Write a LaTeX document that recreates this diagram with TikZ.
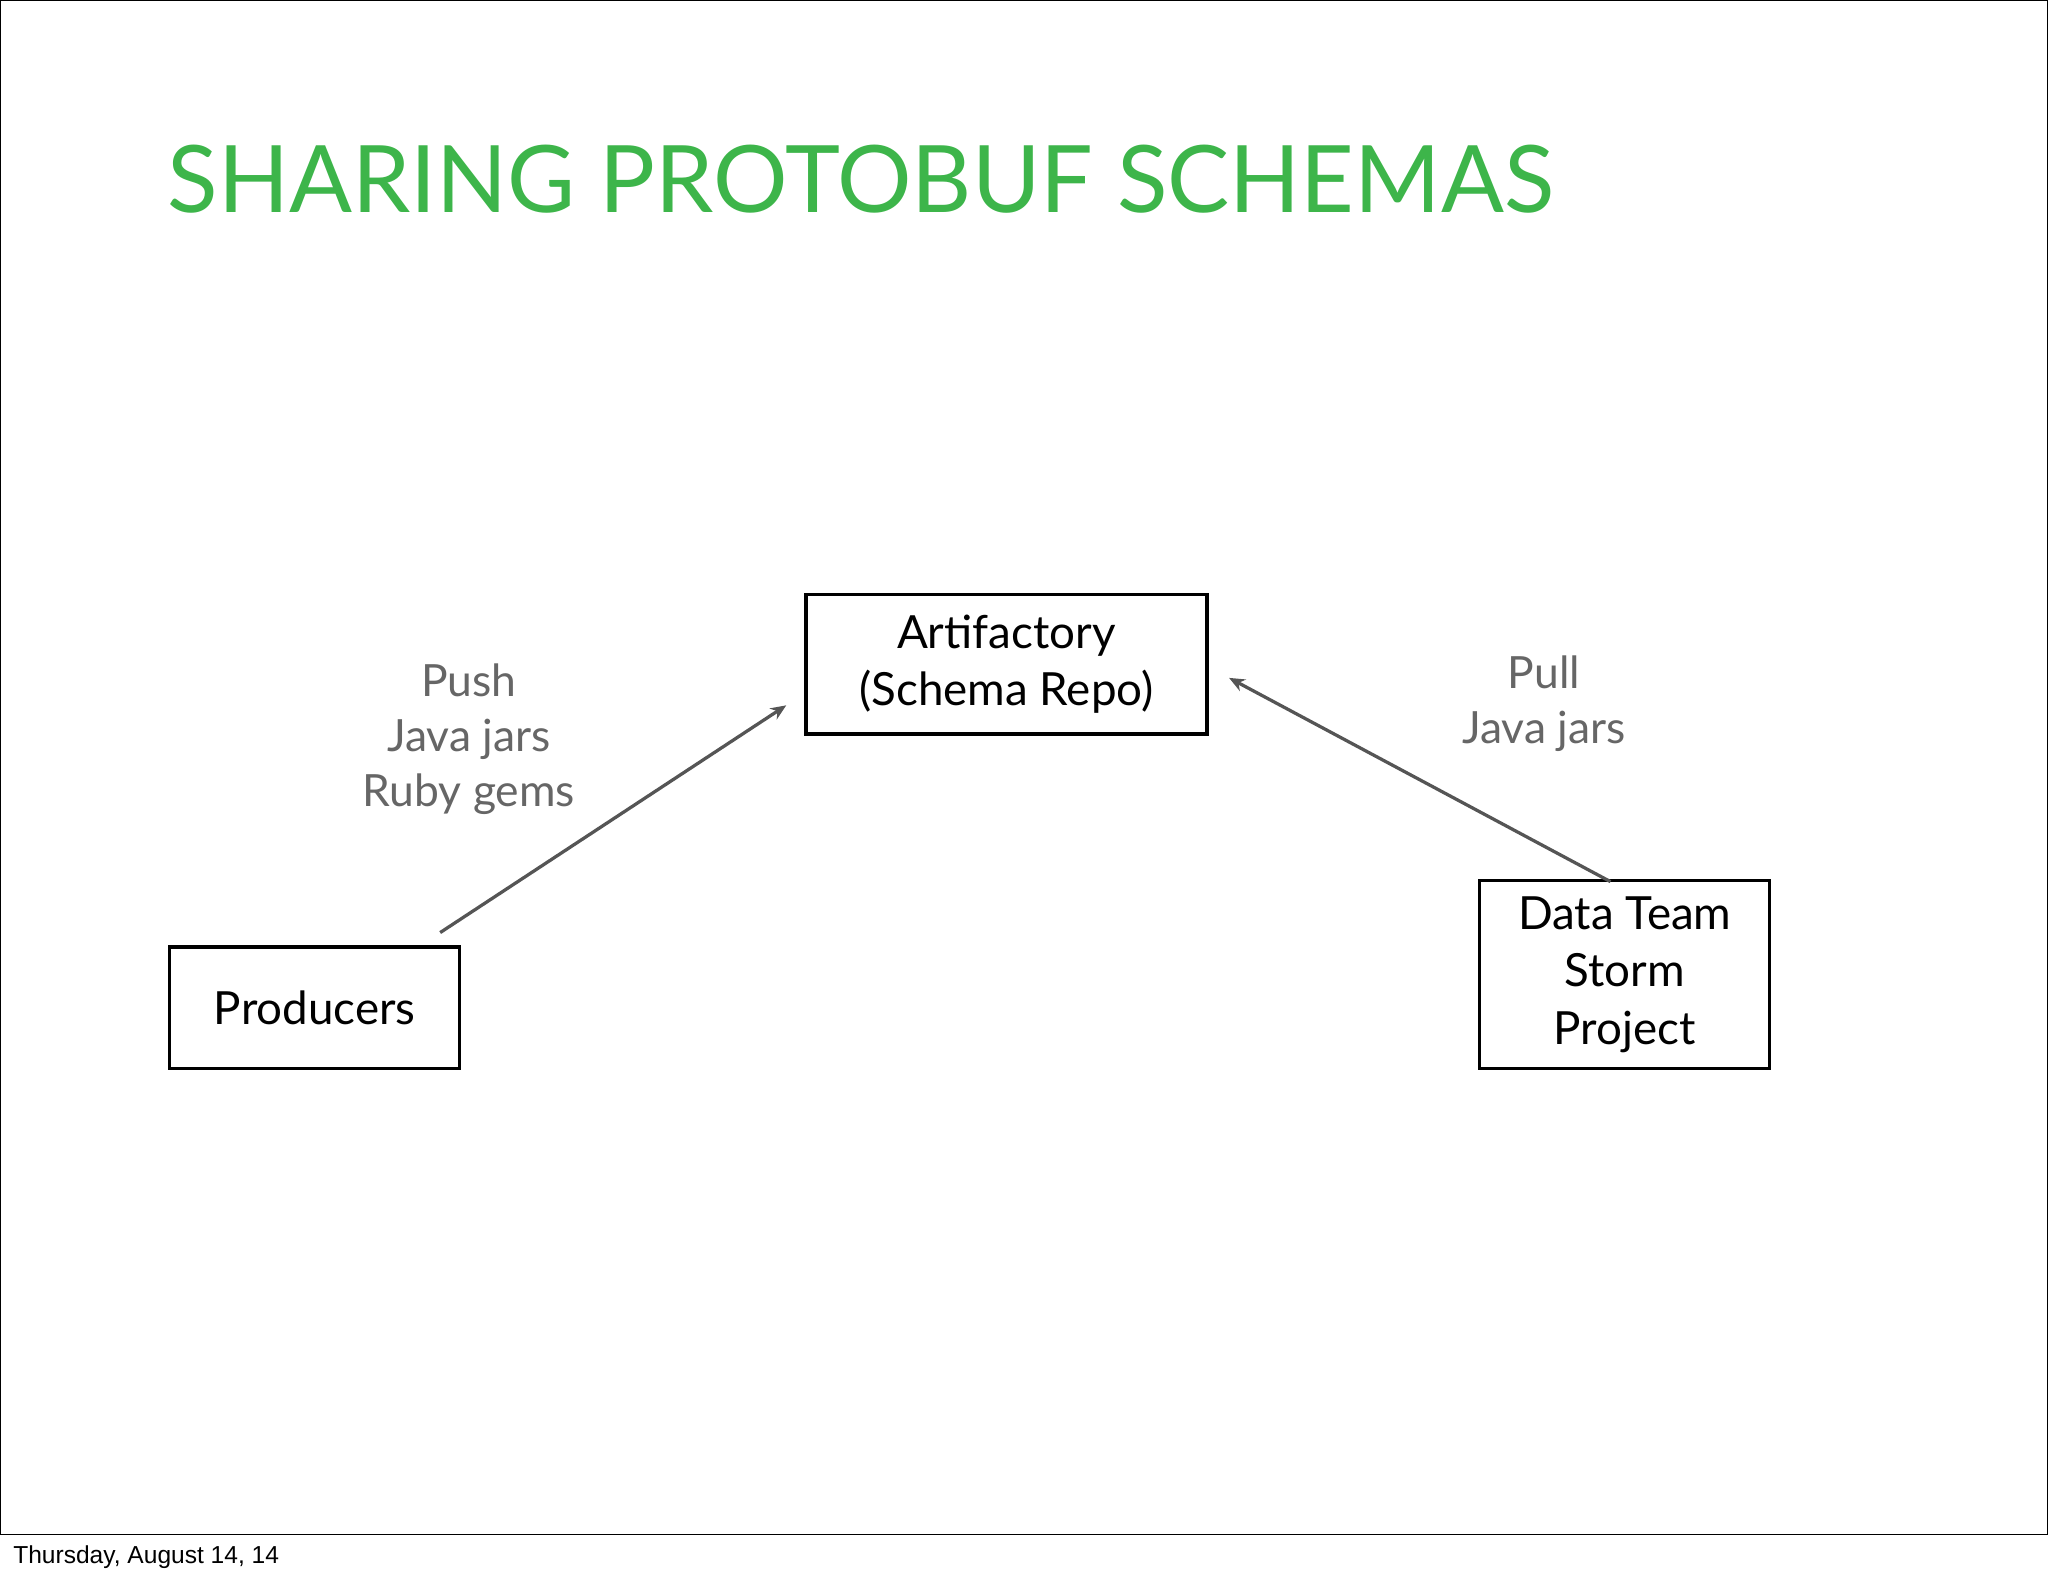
\documentclass[tikz,border=0pt]{standalone}
\usepackage{fontspec}
\setmainfont{Lato}
\newfontfamily\footfont{Liberation Sans}
\usetikzlibrary{arrows.meta}
\definecolor{titlegreen}{HTML}{3DB54A}
\definecolor{arrowgray}{HTML}{555555}
\definecolor{labelgray}{HTML}{666666}
\begin{document}
\begin{tikzpicture}[x=1pt,y=-1pt,
  boxstyle/.style={draw=black,line width=2.5pt,font=\fontsize{35}{44}\selectfont,align=center,inner sep=0pt},
  lbl/.style={text=labelgray,font=\fontsize{34}{42}\selectfont,align=center},
  conn/.style={draw=arrowgray,line width=2.5pt,-{Stealth[length=12pt,width=10pt]}}]
\useasboundingbox (0,0) rectangle (1568,1207);
\draw[line width=0.8pt] (0.5,0.5) rectangle (1567.5,1175);
\node[anchor=base west,text=titlegreen,font=\fontsize{71.3}{80}\selectfont,inner sep=0pt] (title) at (128,163) {SHARING PROTOBUF SCHEMAS};
\node[anchor=base west,font=\footfont\fontsize{18.8}{20}\selectfont,inner sep=0pt] (foot) at (10,1197) {Thursday, August 14, 14};
\node[boxstyle,minimum width=307pt,minimum height=107pt] (art) at (770.5,508.5) {Artifactory\\(Schema Repo)};
\node[boxstyle,minimum width=222pt,minimum height=93pt] (prod) at (241,771.5) {Producers};
\node[boxstyle,minimum width=222pt,minimum height=144pt] (data) at (1244,746) {Data Team\\Storm\\Project};
\coordinate (p1) at (337,714);
\coordinate (p2) at (602,540);
\coordinate (d1) at (1233,675);
\coordinate (d2) at (941,519);
\draw[conn] (p1) -- (p2);
\draw[conn] (d1) -- (d2);
\node[lbl] (push) at (359,566) {Push\\Java jars\\Ruby gems};
\node[lbl] (pull) at (1182,539) {Pull\\Java jars};
\end{tikzpicture}
\end{document}
